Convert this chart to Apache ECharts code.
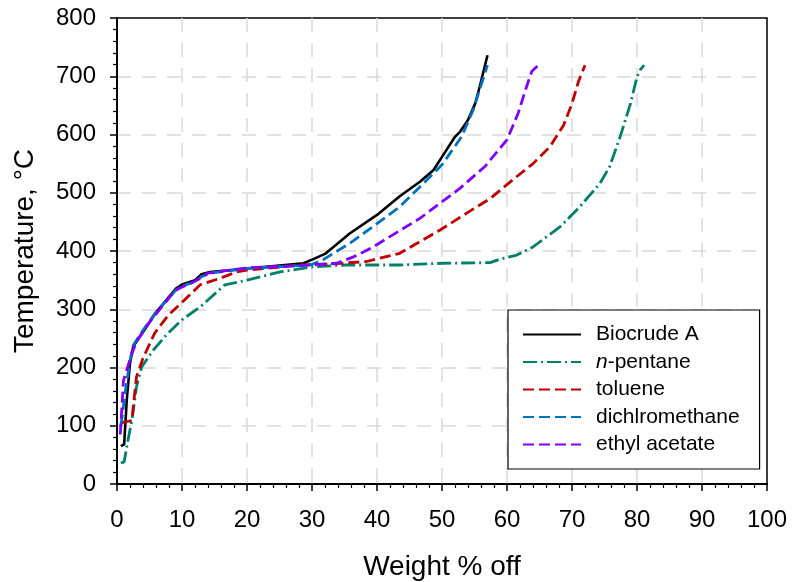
<!DOCTYPE html>
<html>
<head>
<meta charset="utf-8">
<script src="https://cdn.jsdelivr.net/npm/echarts@6/dist/echarts.min.js"></script>
<style>
html,body{margin:0;padding:0;background:#fff;}
#chart{width:792px;height:582px;}
</style>
</head>
<body>
<div id="chart"></div>
<script>
// Weight % off (x) and temperature °C (T)
const biocrudeX = [0.6, 1.1, 1.5, 2.0, 2.5, 4.0, 6.1, 9.1, 10.1, 12.0, 13.0, 14.3, 20.0, 28.7, 30.2, 32.0, 35.8, 40.0, 43.5, 46.6, 48.7, 50.2, 52.0, 52.8, 54.0, 55.1, 55.8, 57.0];
const biocrudeT = [65, 68, 144, 207, 236, 261, 296, 336, 343, 350, 360, 364, 370, 379, 386, 395, 430, 462, 494, 519, 539, 565, 596, 605, 625, 653, 682, 736];

const pentaneX = [0.6, 1.1, 1.7, 2.3, 3.0, 3.8, 5.6, 7.6, 10.0, 12.8, 16.6, 20.0, 25.1, 30.2, 35.3, 43.5, 50.2, 57.4, 58.9, 61.5, 64.0, 68.2, 71.2, 74.3, 75.8, 77.4, 79.0, 80.0, 80.5, 81.1];
const pentaneT = [36, 38, 76, 110, 167, 201, 230, 256, 282, 304, 342, 350, 364, 373, 376, 376, 379, 380, 386, 393, 407, 442, 476, 516, 545, 596, 653, 699, 711, 719];

const tolueneX = [0.6, 2.3, 2.5, 3.0, 4.0, 5.8, 7.9, 10.1, 12.8, 15.8, 18.4, 20.0, 28.2, 33.3, 38.4, 43.5, 46.6, 49.7, 53.8, 57.4, 61.2, 64.0, 66.6, 68.7, 70.0, 71.0, 72.0];
const tolueneT = [105, 109, 133, 184, 216, 259, 290, 313, 342, 353, 364, 367, 376, 378, 382, 396, 416, 436, 465, 490, 525, 550, 579, 616, 653, 691, 719];

const dcmX = [0.6, 1.3, 2.0, 2.5, 4.0, 6.0, 9.0, 10.0, 12.0, 13.0, 14.3, 20.0, 28.0, 30.0, 31.7, 35.8, 40.0, 43.5, 46.6, 50.0, 53.0, 54.8, 56.1, 57.0];
const dcmT = [100, 160, 212, 238, 264, 295, 332, 340, 347, 356, 362, 370, 375, 377, 385, 413, 447, 476, 510, 548, 596, 642, 688, 719];

const ethylX = [0.5, 0.8, 1.0, 2.3, 3.0, 5.0, 9.0, 12.0, 14.0, 20.0, 30.0, 33.8, 36.4, 39.4, 43.5, 46.6, 49.7, 52.8, 56.6, 60.0, 61.7, 63.0, 63.8, 64.8];
const ethylT = [85, 140, 178, 224, 245, 278, 333, 348, 362, 371, 376, 379, 390, 407, 435, 456, 482, 508, 545, 591, 636, 682, 708, 719];

const seriesNames = ['Biocrude A', 'n-pentane', 'toluene', 'dichlromethane', 'ethyl acetate'];

const xTicks = {min: 0, max: 100, interval: 10};
const yTicks = {min: 0, max: 800, interval: 100};

function zip(xs, ys) { return xs.map((x, i) => [x, ys[i]]); }

const FONT = 'Liberation Sans, Arial, sans-serif';

const chart = echarts.init(document.getElementById('chart'), null, {renderer: 'canvas'});

function mk(name, xs, ys, color, type, width) {
  return {
    name: name,
    type: 'line',
    data: zip(xs, ys),
    symbol: 'none',
    smooth: false,
    lineStyle: {color: color, width: width, type: type},
    itemStyle: {color: color},
    emphasis: {disabled: true},
    animation: false
  };
}

const axisCommon = {
  axisLine: {show: true, onZero: false, lineStyle: {color: '#000', width: 2}},
  axisTick: {show: true, inside: false, length: 7, lineStyle: {color: '#000', width: 1.5}},
  minorTick: {show: true, splitNumber: 5, length: 4, lineStyle: {color: '#000', width: 1.2}},
  splitLine: {show: true, showMinLine: false, showMaxLine: false, lineStyle: {color: '#d9d9d9', width: 1.5, type: [14, 11]}}
};

const option = {
  animation: false,
  grid: {left: 117, right: 25, top: 18, bottom: 98, containLabel: false, outerBoundsMode: 'none', show: true, borderColor: '#000', borderWidth: 1.5, backgroundColor: 'transparent'},
  legend: {
    orient: 'vertical',
    left: 508,
    top: 310,
    padding: [14, 20, 14, 14],
    itemWidth: 58,
    itemHeight: 14,
    itemGap: 6.5,
    borderColor: '#000',
    borderWidth: 1.2,
    backgroundColor: '#fff',
    itemStyle: {opacity: 0},
    formatter: function (n) { return n === 'n-pentane' ? '{i|n}{t|-pentane}' : '{t|' + n + '}'; },
    textStyle: {
      fontFamily: FONT, fontSize: 21, color: '#000', padding: [0, 0, 0, 10],
      rich: {
        i: {fontFamily: FONT, fontSize: 21, fontStyle: 'italic', color: '#000'},
        t: {fontFamily: FONT, fontSize: 21, color: '#000'}
      }
    },
    data: seriesNames
  },
  xAxis: Object.assign({
    type: 'value',
    min: xTicks.min, max: xTicks.max, interval: xTicks.interval,
    name: 'Weight % off',
    nameLocation: 'middle',
    nameGap: 69,
    nameTextStyle: {fontFamily: FONT, fontSize: 28, color: '#000'},
    axisLabel: {fontFamily: FONT, fontSize: 24, color: '#000', margin: 24}
  }, axisCommon),
  yAxis: Object.assign({
    type: 'value',
    min: yTicks.min, max: yTicks.max, interval: yTicks.interval,
    name: 'Temperature, °C',
    nameLocation: 'middle',
    nameGap: 78,
    nameRotate: 90,
    nameTextStyle: {fontFamily: FONT, fontSize: 28, color: '#000'},
    axisLabel: {fontFamily: FONT, fontSize: 24, color: '#000', margin: 21}
  }, axisCommon),
  series: [
    mk(seriesNames[0], biocrudeX, biocrudeT, '#000000', 'solid', 2.6),
    mk(seriesNames[1], pentaneX, pentaneT, '#00806a', [14, 4, 2, 4], 2.8),
    mk(seriesNames[2], tolueneX, tolueneT, '#c00000', [11, 5], 2.8),
    mk(seriesNames[3], dcmX, dcmT, '#0070c0', [11, 5], 2.8),
    mk(seriesNames[4], ethylX, ethylT, '#8000ff', [11, 5], 2.8)
  ]
};
chart.setOption(option);
</script>
</body>
</html>
